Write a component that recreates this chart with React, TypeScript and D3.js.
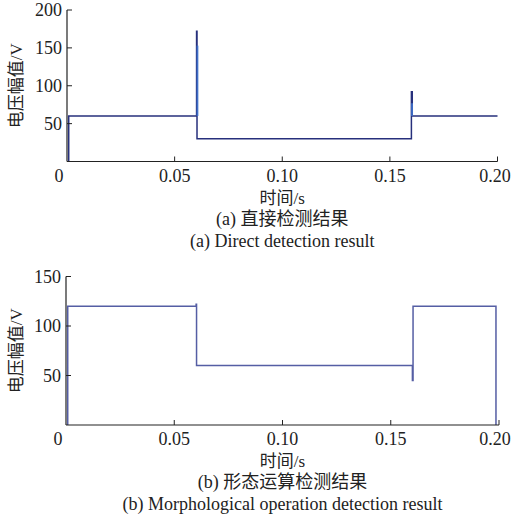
import * as d3 from "d3";
import React from "react";

// panel (a) direct detection, step trace
const timeA = [0.0008, 0.0008, 0.0602, 0.0602, 0.0604, 0.0604, 0.16, 0.16, 0.1604, 0.1604, 0.2];
const voltA = [0, 60, 60, 172, 172, 30, 30, 92, 92, 60, 60];
// lighter transient spikes in (a)
const spikeTimeA = [0.0606, 0.1603];
const spikeLowA = [60, 60];
const spikeHighA = [153, 77];

// panel (b) morphological operation result
const timeB = [0.0008, 0.0008, 0.0601, 0.0601, 0.0603, 0.0603, 0.16, 0.16, 0.1603, 0.1603, 0.1986, 0.1986];
const voltB = [0, 120, 120, 122, 122, 60, 60, 45, 45, 120, 120, 0];

const xTicks = [0, 0.05, 0.1, 0.15, 0.2];
const xTickLabels = ["0", "0.05", "0.10", "0.15", "0.20"];
const yTicksA = [50, 100, 150, 200];
const yTicksB = [50, 100, 150];

const yLabel = "电压幅值/V";
const xLabel = "时间/s";
const captionsA = ["(a) 直接检测结果", "(a) Direct detection result"];
const captionsB = ["(b) 形态运算检测结果", "(b) Morphological operation detection result"];

const FONT = "'Liberation Serif', 'Noto Sans CJK SC', serif";

type PanelProps = {
  times: number[];
  volts: number[];
  yMax: number;
  yTicks: number[];
  top: number;
  bottom: number;
  left: number;
  right: number;
  color: string;
  captions: string[];
  children?: (x: d3.ScaleLinear<number, number>, y: d3.ScaleLinear<number, number>) => React.ReactNode;
};

const Panel = (props: PanelProps) => {
  const x = d3.scaleLinear().domain([0, 0.2]).range([props.left, props.right]);
  const y = d3.scaleLinear().domain([0, props.yMax]).range([props.bottom, props.top]);
  const pts = props.times.map((t, i) => [t, props.volts[i]] as [number, number]);
  const line = d3
    .line<[number, number]>()
    .x((d) => x(d[0]))
    .y((d) => y(d[1]));
  const axisLeft = x(0);
  const mid = (axisLeft + props.right) / 2;
  // keep the outer labels inside the page
  const labelX = (t: number, i: number) => (i === 0 ? x(t) - 8 : Math.min(x(t), 495));
  return (
    <g fontFamily={FONT} fill="#222">
      <path d={line(pts) || ""} fill="none" stroke={props.color} strokeWidth={1.5} />
      {props.children && props.children(x, y)}
      <line x1={axisLeft} x2={props.right} y1={props.bottom} y2={props.bottom} stroke="#222" strokeWidth={1.2} />
      <line x1={axisLeft} x2={axisLeft} y1={props.bottom} y2={props.top} stroke="#222" strokeWidth={1.2} />
      {xTicks.map((t, i) => (
        <g key={"x" + i}>
          {i > 0 && <line x1={x(t)} x2={x(t)} y1={props.bottom} y2={props.bottom - 5} stroke="#222" strokeWidth={1} />}
          <text x={labelX(t, i)} y={props.bottom + 20} textAnchor="middle" fontSize={18}>
            {xTickLabels[i]}
          </text>
        </g>
      ))}
      {props.yTicks.map((v) => (
        <g key={"y" + v}>
          <line x1={axisLeft} x2={axisLeft + 5} y1={y(v)} y2={y(v)} stroke="#222" strokeWidth={1} />
          <text x={axisLeft - 5} y={y(v)} dy="0.35em" textAnchor="end" fontSize={18}>
            {v}
          </text>
        </g>
      ))}
      <text
        transform={`translate(22,${(props.top + props.bottom) / 2}) rotate(-90)`}
        textAnchor="middle"
        fontSize={17}
      >
        {yLabel}
      </text>
      <text x={mid} y={props.bottom + 42} textAnchor="middle" fontSize={17}>
        {xLabel}
      </text>
      <text x={mid} y={props.bottom + 63} textAnchor="middle" fontSize={18}>
        {props.captions[0]}
      </text>
      <text x={mid} y={props.bottom + 85} textAnchor="middle" fontSize={18}>
        {props.captions[1]}
      </text>
    </g>
  );
};

export default function App() {
  return (
    <svg
      width={513}
      height={523}
      style={{ position: "absolute", left: 0, top: 0, background: "#fff" }}
    >
      <Panel
        times={timeA}
        volts={voltA}
        yMax={200}
        yTicks={yTicksA}
        top={10}
        bottom={161.5}
        left={67}
        right={497.5}
        color="#27307c"
        captions={captionsA}
      >
        {(x, y) =>
          spikeTimeA.map((t, i) => (
            <line
              key={i}
              x1={x(t)}
              x2={x(t)}
              y1={y(spikeLowA[i])}
              y2={y(spikeHighA[i])}
              stroke="#3f6fc8"
              strokeWidth={1.8}
            />
          ))
        }
      </Panel>
      <Panel
        times={timeB}
        volts={voltB}
        yMax={150}
        yTicks={yTicksB}
        top={276.5}
        bottom={425}
        left={66}
        right={499}
        color="#555ea4"
        captions={captionsB}
      />
    </svg>
  );
}
